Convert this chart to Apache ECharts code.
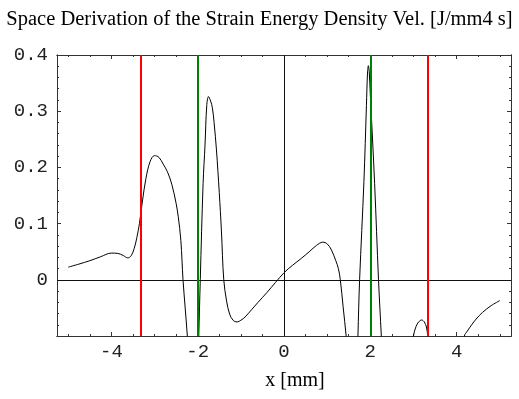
<!DOCTYPE html>
<html>
<head>
<meta charset="utf-8">
<script src="https://cdn.jsdelivr.net/npm/echarts@6/dist/echarts.min.js"></script>
<style>
  html, body { margin: 0; padding: 0; background: #fff; }
  #chart { width: 519px; height: 399px; }
</style>
</head>
<body>
<div id="chart"></div>
<script>
// Plot range of the frame
const xRange = [-5.26, 5.26];
const yRange = [-0.1, 0.4];

// Tick positions and labels
const xMajorTicks = [-4, -2, 0, 2, 4];
const xMinorTicks = [-5, -4.5, -3.5, -3, -2.5, -1.5, -1, -0.5, 0.5, 1, 1.5, 2.5, 3, 3.5, 4.5, 5];
const yMajorTicks = [-0.1, 0, 0.1, 0.2, 0.3, 0.4];
const yLabelTicks = [0, 0.1, 0.2, 0.3, 0.4];
const yMinorTicks = [-0.08, -0.06, -0.04, -0.02, 0.02, 0.04, 0.06, 0.08, 0.12, 0.14, 0.16, 0.18,
                     0.22, 0.24, 0.26, 0.28, 0.32, 0.34, 0.36, 0.38];

// Marker lines
const redLinesX = [-3.33, 3.33];
const greenLinesX = [-2, 2];

// Curve pieces (x in mm, value); the curve leaves the plot range between pieces
const piece1 = [[-5.0, 0.0225], [-4.75, 0.028], [-4.5, 0.034], [-4.25, 0.041], [-4.0, 0.0475],
  [-3.85, 0.047], [-3.72, 0.043], [-3.62, 0.039], [-3.54, 0.043], [-3.47, 0.056], [-3.41, 0.075],
  [-3.35, 0.100], [-3.28, 0.140], [-3.2, 0.180], [-3.1, 0.211], [-3.0, 0.221], [-2.9, 0.218],
  [-2.8, 0.206], [-2.7, 0.192], [-2.6, 0.170], [-2.5, 0.136], [-2.45, 0.112], [-2.39, 0.07],
  [-2.34, 0.0], [-2.29, -0.05], [-2.24, -0.10], [-2.22, -0.13]];
const piece2 = [[-1.99, -0.14], [-1.975, -0.1], [-1.94, 0.0], [-1.875, 0.171], [-1.83, 0.24],
  [-1.79, 0.31], [-1.75, 0.326], [-1.70, 0.318], [-1.66, 0.306], [-1.62, 0.28], [-1.565, 0.231],
  [-1.5, 0.155], [-1.45, 0.087], [-1.396, 0.0], [-1.33, -0.038], [-1.26, -0.061], [-1.18, -0.072],
  [-1.09, -0.075], [-1.0, -0.072], [-0.9, -0.066], [-0.75, -0.053], [-0.6, -0.040], [-0.4, -0.023],
  [-0.2, -0.005], [0, 0.0125], [0.2, 0.026], [0.4, 0.038], [0.6, 0.051], [0.75, 0.061], [0.9, 0.067],
  [1.0, 0.064], [1.1, 0.053], [1.2, 0.034], [1.26, 0.02], [1.305, 0.0], [1.37, -0.048], [1.44, -0.1],
  [1.46, -0.125]];
const piece3 = [[1.70, -0.135], [1.713, -0.1], [1.752, 0.0], [1.852, 0.175], [1.91, 0.31],
  [1.935, 0.368], [1.955, 0.381], [1.975, 0.37], [2.0, 0.33], [2.10, 0.171], [2.19, 0.0],
  [2.255, -0.1], [2.27, -0.125]];
const piece4 = [[2.98, -0.13], [3.0, -0.1], [3.06, -0.083], [3.12, -0.075], [3.19, -0.0715],
  [3.25, -0.075], [3.30, -0.084], [3.33, -0.1], [3.35, -0.125]];
const piece5 = [[4.15, -0.135], [4.18, -0.1], [4.25, -0.091], [4.35, -0.080], [4.45, -0.070],
  [4.6, -0.058], [4.8, -0.046], [5.0, -0.037]];
const pieces = [piece1, piece2, piece3, piece4, piece5];

const titleText = 'Space Derivation of the Strain Energy Density Vel. [J/mm4 s]';
const xLabelText = 'x [mm]';

const frameColor = '#333';
const labelColor = '#222';
const monoFont = 'Liberation Mono';
const serifFont = 'Liberation Serif';

function xAxisDef(position, ticks, len, showLabels) {
  return {
    type: 'value', position: position, min: xRange[0], max: xRange[1],
    axisLine: { show: true, onZero: false, lineStyle: { color: frameColor, width: 1 } },
    axisTick: { show: true, inside: true, length: len, customValues: ticks,
                lineStyle: { color: frameColor, width: 1 } },
    axisLabel: { show: showLabels, customValues: xMajorTicks, margin: 6,
                 fontFamily: monoFont, fontSize: 19, color: labelColor },
    splitLine: { show: false }
  };
}
function yAxisDef(position, ticks, len, showLabels) {
  return {
    type: 'value', position: position, min: yRange[0], max: yRange[1],
    axisLine: { show: true, onZero: false, lineStyle: { color: frameColor, width: 1 } },
    axisTick: { show: true, inside: true, length: len, customValues: ticks,
                lineStyle: { color: frameColor, width: 1 } },
    axisLabel: { show: showLabels, customValues: yLabelTicks, margin: 9,
                 fontFamily: monoFont, fontSize: 19, color: labelColor,
                 formatter: v => (v === 0 ? '0' : String(v)) },
    splitLine: { show: false }
  };
}

const chart = echarts.init(document.getElementById('chart'), null, { renderer: 'canvas' });

const vLine = (x, color, w) => ({ xAxis: x, lineStyle: { color: color, width: w, type: 'solid' } });

const series = pieces.map((p, i) => ({
  name: 'curve' + i, type: 'line', xAxisIndex: 0, yAxisIndex: 0,
  data: p, smooth: 0.35, showSymbol: false, clip: true, z: 4,
  lineStyle: { color: '#000', width: 1 }, animation: false
}));

// Coordinate axes through the origin
series.push({
  name: 'axes', type: 'line', data: [], z: 2, animation: false,
  markLine: {
    silent: true, symbol: 'none', label: { show: false }, animation: false,
    data: [
      { xAxis: 0, lineStyle: { color: '#111', width: 1, type: 'solid' } },
      { yAxis: 0, lineStyle: { color: '#111', width: 1, type: 'solid' } }
    ]
  }
});
// Red and green marker lines
series.push({
  name: 'markers', type: 'line', data: [], z: 5, animation: false,
  markLine: {
    silent: true, symbol: 'none', label: { show: false }, animation: false,
    data: redLinesX.map(x => vLine(x, '#ff0000', 2)).concat(greenLinesX.map(x => vLine(x, '#008000', 2)))
  }
});

chart.setOption({
  animation: false,
  backgroundColor: '#fff',
  title: {
    text: titleText, left: 'center', top: 4,
    textStyle: { fontFamily: serifFont, fontSize: 20.5, fontWeight: 'normal', color: '#000' }
  },
  graphic: [{
    type: 'text', x: 295, y: 371,
    style: { text: xLabelText, font: '20px "Liberation Serif"', fill: '#000',
             textAlign: 'center', textVerticalAlign: 'top' }
  }],
  grid: { left: 57, right: 8, top: 55, bottom: 63, containLabel: false },
  xAxis: [
    xAxisDef('bottom', xMajorTicks, 4, true),
    xAxisDef('bottom', xMinorTicks, 2, false),
    xAxisDef('top', xMajorTicks, 4, false),
    xAxisDef('top', xMinorTicks, 2, false)
  ],
  yAxis: [
    yAxisDef('left', yMajorTicks, 4, true),
    yAxisDef('left', yMinorTicks, 2, false),
    yAxisDef('right', yMajorTicks, 4, false),
    yAxisDef('right', yMinorTicks, 2, false)
  ],
  series: series
});
</script>
</body>
</html>
